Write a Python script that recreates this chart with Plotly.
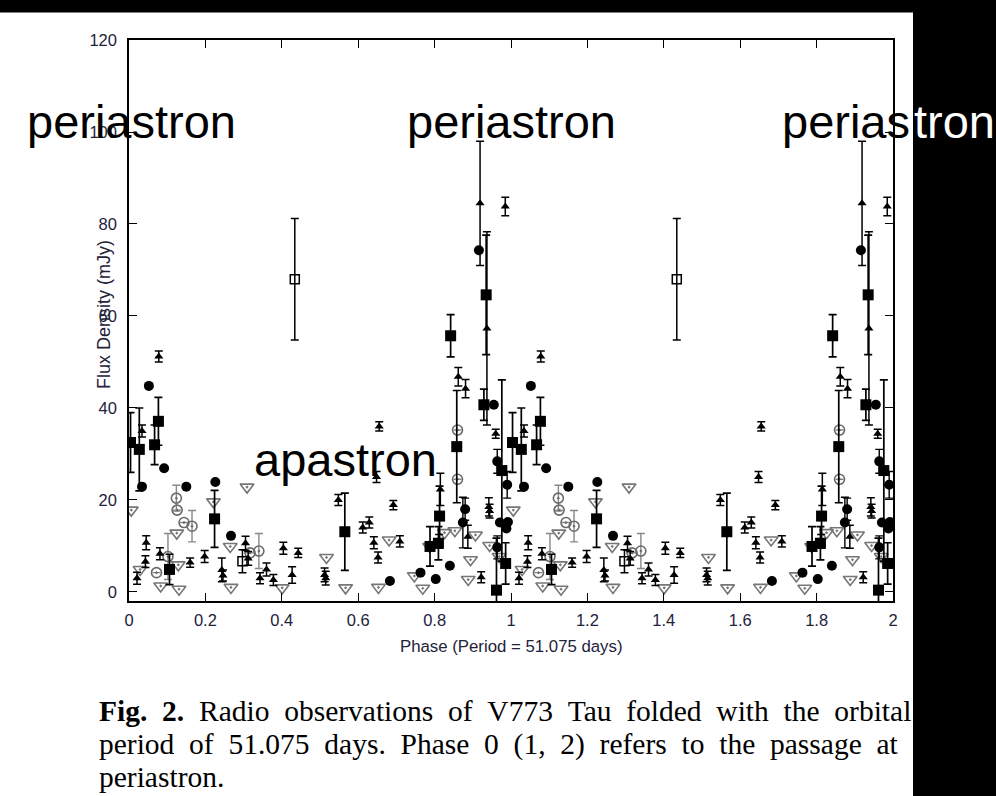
import plotly.graph_objects as go

# Radio flux densities of V773 Tau folded on the 51.075 d orbit.
# One cycle (phase 0-1) per data set; every set is drawn at phase and phase + 1.

# Filled squares (with errors)
sq_phase = [0.004, 0.027, 0.067, 0.077, 0.106, 0.224, 0.565, 0.788, 0.810, 0.813,
            0.842, 0.858, 0.929, 0.935, 0.962, 0.976, 0.986]
sq_flux = [32.5, 31.0, 32.0, 37.1, 4.9, 15.9, 13.1, 9.9, 10.6, 16.5,
           55.7, 31.6, 40.7, 64.6, 0.4, 26.4, 6.2]
sq_err = [6.5, 9.0, 4.3, 5.2, 3.3, 6.2, 8.4, 4.3, 3.6, 6.5,
          4.6, 12.2, 3.4, 13.0, 11.3, 19.7, 4.5]

# Filled circles
ci_phase = [0.034, 0.052, 0.092, 0.150, 0.226, 0.267, 0.683, 0.763, 0.803, 0.840,
            0.874, 0.880, 0.916, 0.955, 0.964, 0.964, 0.971, 0.988, 0.990, 0.992]
ci_flux = [22.9, 44.8, 26.9, 22.9, 23.9, 12.2, 2.4, 4.2, 2.8, 5.7,
           15.1, 18.0, 74.3, 40.7, 28.4, 9.7, 15.1, 13.8, 23.3, 15.2]
ci_err = [0, 0, 0, 0, 0, 0, 0, 0, 0, 0,
          5.5, 2.4, 0, 0, 2.6, 2.5, 0, 0, 2.9, 0]

# Filled triangles (with errors)
tr_phase = [0.021, 0.034, 0.043, 0.045, 0.078, 0.081, 0.160, 0.198, 0.243, 0.246,
            0.305, 0.312, 0.343, 0.360, 0.378, 0.404, 0.427, 0.443, 0.512, 0.515,
            0.548, 0.612, 0.629, 0.641, 0.648, 0.652, 0.655, 0.692, 0.709, 0.812,
            0.815, 0.862, 0.881, 0.887, 0.919, 0.922, 0.937, 0.942, 0.944, 0.960, 0.985]
tr_flux = [3.0, 35.0, 6.6, 10.7, 51.2, 8.3, 6.4, 7.7, 4.8, 3.6,
           10.6, 7.3, 3.0, 4.9, 2.6, 9.5, 3.7, 8.5, 3.7, 3.0,
           20.0, 14.0, 15.1, 10.7, 25.0, 7.5, 36.0, 18.9, 11.0, 11.0,
           22.3, 46.8, 44.2, 12.0, 84.5, 3.2, 57.3, 18.5, 17.6, 34.4, 83.8]
tr_err = [1.3, 1.3, 1.3, 1.5, 1.2, 1.3, 1.0, 1.3, 2.6, 1.2,
          1.5, 1.5, 1.2, 1.4, 1.2, 1.3, 1.8, 1.0, 1.5, 1.5,
          1.2, 1.2, 1.2, 1.3, 1.2, 1.2, 1.0, 1.0, 1.2, 1.5,
          3.5, 2.0, 2.0, 2.5, 13.5, 1.2, 21.0, 2.0, 1.5, 1.0, 2.0]

# Open downward triangles (grey)
dt_phase = [0.006, 0.029, 0.083, 0.125, 0.129, 0.131, 0.221, 0.265, 0.267, 0.309,
            0.401, 0.517, 0.567, 0.653, 0.681, 0.747, 0.769, 0.787, 0.826, 0.853,
            0.888, 0.894, 0.907, 0.944, 0.969]
dt_flux = [17.8, 4.9, 1.3, 12.8, 5.9, 0.6, 19.6, 9.9, 1.0, 22.8,
           0.9, 7.5, 0.9, 1.0, 11.3, 3.5, 0.8, 9.9, 12.9, 13.3,
           2.7, 7.0, 12.4, 10.1, 7.7]

# Open circles (grey, with errors)
oc_phase = [0.072, 0.102, 0.124, 0.126, 0.144, 0.165, 0.317, 0.340, 0.860, 0.860]
oc_flux = [4.2, 7.7, 20.4, 17.8, 15.1, 14.3, 8.5, 8.9, 35.2, 24.5]
oc_err = [0, 5.0, 2.8, 0, 0, 3.4, 0, 3.8, 0, 0]

# Open squares (with errors)
os_phase = [0.297, 0.434]
os_flux = [6.7, 68.0]
os_err = [2.5, 13.2]

x_ticks = [0, 0.2, 0.4, 0.6, 0.8, 1.0, 1.2, 1.4, 1.6, 1.8, 2.0]
x_tick_text = ["0", "0.2", "0.4", "0.6", "0.8", "1", "1.2", "1.4", "1.6", "1.8", "2"]
y_ticks = [0, 20, 40, 60, 80, 100, 120]

W, H = 996, 796
L, R, T, B = 129, 893, 40, 601  # plot area in page pixels


def fold(phase):
    return list(phase) + [p + 1 for p in phase]


def twice(vals):
    return list(vals) + list(vals)


def px(x):
    return (x - L) / (R - L)


def py(y):
    return (B - y) / (B - T)


fig = go.Figure()


def add(phase, flux, err, symbol, size, color, line_w=0, err_color=None, err_w=1.4):
    kw = {}
    if err is not None:
        kw["error_y"] = dict(type="data", array=twice(err), visible=True,
                             color=err_color or color, thickness=err_w, width=4)
    fig.add_trace(go.Scatter(
        x=fold(phase), y=twice(flux), mode="markers",
        marker=dict(symbol=symbol, size=size, color=color,
                    line=dict(width=line_w, color=color)),
        showlegend=False, hoverinfo="skip", **kw))


add(dt_phase, dt_flux, None, "triangle-down-open-dot", 12, "#767676", line_w=1.6)
add(oc_phase, oc_flux, oc_err, "circle-open-dot", 10, "#6a6a6a", line_w=1.6,
    err_color="#888888")
add(os_phase, os_flux, os_err, "square-open", 9, "black", line_w=1.5, err_w=1.5)
add(tr_phase, tr_flux, tr_err, "triangle-up", 8, "black", err_w=1.5)
add(ci_phase, ci_flux, ci_err, "circle", 10, "black", err_w=1.4)
add(sq_phase, sq_flux, sq_err, "square", 11, "black", err_w=1.7)

tick_font = dict(family="Liberation Sans, Arial, sans-serif", size=16.5, color="#22223a")
common = dict(showgrid=False, zeroline=False, showline=True, linecolor="black",
              linewidth=1.5, mirror="ticks", ticks="inside", ticklen=8,
              tickwidth=1.3, tickcolor="black", tickfont=tick_font, automargin=False)

fig.update_xaxes(range=[0, 2], tickvals=x_ticks, ticktext=x_tick_text,
                 ticklabelstandoff=3, **common)
fig.update_yaxes(range=[-1.96, 120], tickvals=y_ticks, ticklabelstandoff=7, **common)

ann = []
# axis titles
ann.append(dict(x=px(511), y=py(646), text="Phase (Period = 51.075 days)",
                font=dict(tick_font, size=16.8), showarrow=False,
                xanchor="center", yanchor="middle"))
ann.append(dict(x=px(104), y=py(315), text="Flux Density (mJy)", textangle=-90,
                font=dict(tick_font, size=18), showarrow=False,
                xanchor="center", yanchor="middle"))

big = dict(family="Liberation Sans, Arial, sans-serif", size=47, color="black")
ann.append(dict(x=px(25), y=py(122), text="periastron", font=big, showarrow=False,
                xanchor="left", yanchor="middle"))
ann.append(dict(x=px(405), y=py(122), text="periastron", font=big, showarrow=False,
                xanchor="left", yanchor="middle"))
ann.append(dict(x=px(911.5), y=py(122), text="perias", font=big, showarrow=False,
                xanchor="right", yanchor="middle"))
ann.append(dict(x=px(911.5), y=py(122), text="tron", showarrow=False,
                font=dict(big, color="white"), xanchor="left", yanchor="middle"))
ann.append(dict(x=px(252), y=py(459), text="apastron", font=big, showarrow=False,
                xanchor="left", yanchor="middle"))

# justified caption: en spaces widen the word gaps
cap = dict(family="Liberation Serif, Times New Roman, serif", size=29.5, color="black")
wide = "\u2002"
caption = [
    "<b>Fig.\u20022.</b>" + wide + wide.join(
        "Radio observations of V773 Tau folded with the orbital".split(" ")),
    wide.join("period of 51.075 days. Phase 0 (1, 2) refers to the passage at".split(" ")),
    "periastron.",
]
for i, line in enumerate(caption):
    ann.append(dict(x=px(97), y=py(711 + 33 * i), text=line, font=cap,
                    showarrow=False, xanchor="left", yanchor="middle"))

for a in ann:
    a.update(xref="paper", yref="paper")

shapes = [
    dict(type="rect", xref="paper", yref="paper", x0=px(913), x1=px(1000),
         y0=py(800), y1=py(-5), fillcolor="black", line=dict(width=0), layer="above"),
    dict(type="rect", xref="paper", yref="paper", x0=px(-5), x1=px(1000),
         y0=py(12.5), y1=py(-5), fillcolor="black", line=dict(width=0), layer="above"),
]

fig.update_layout(
    width=W, height=H,
    margin=dict(l=L, r=W - R, t=T, b=H - B, pad=0),
    paper_bgcolor="white", plot_bgcolor="white",
    annotations=ann, shapes=shapes,
)

fig.write_html("out.html")
